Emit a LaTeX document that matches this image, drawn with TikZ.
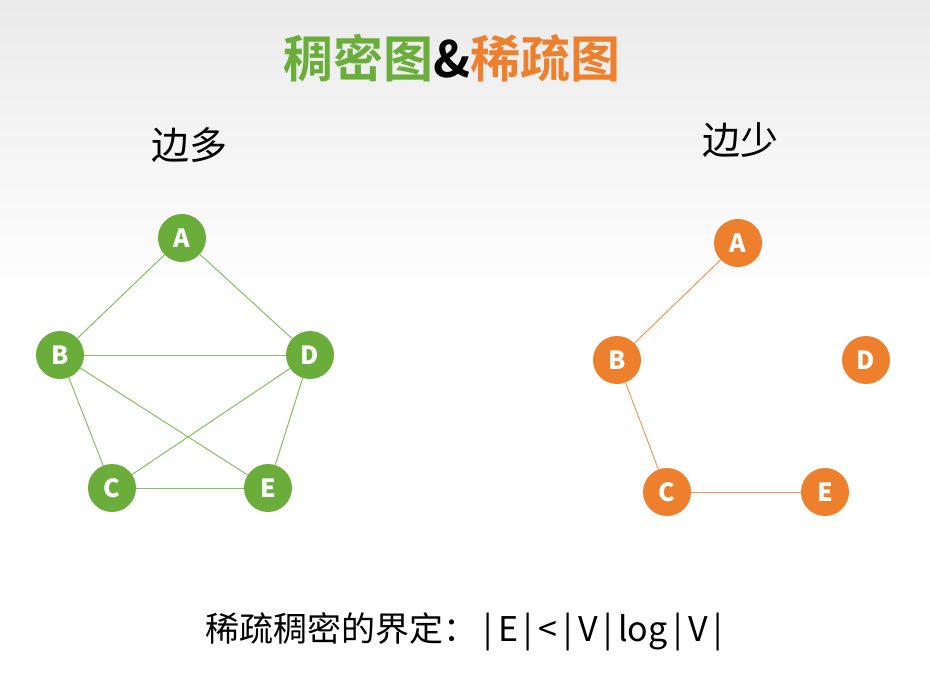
\documentclass[tikz,border=0pt]{standalone}
\usepackage{fontspec}
\setmainfont{Noto Sans CJK SC}
\newfontfamily\cjkb{Noto Sans CJK SC Bold}
\definecolor{gr}{HTML}{6AAD3A}
\definecolor{og}{HTML}{EE7F2D}
\begin{document}
\begin{tikzpicture}[x=1pt,y=-1pt,
  gn/.style={circle,fill=gr,minimum size=48pt,inner sep=0pt,text=white,font=\fontsize{25}{25}\selectfont\bfseries},
  on/.style={circle,fill=og,minimum size=48pt,inner sep=0pt,text=white,font=\fontsize{25}{25}\selectfont\bfseries},
  ge/.style={draw=gr!80,line width=1pt},
  oe/.style={draw=og!80,line width=1pt}]
\shade[top color=black!8,bottom color=white] (0,0) rectangle (930,300);
\fill[white] (0,300) rectangle (930,694);
\useasboundingbox (0,0) rectangle (930,694);
\node (t) at (452,58) {\cjkb\fontsize{50}{50}\selectfont\textcolor{gr}{稠密图}\textcolor{black}{\&}\textcolor{og}{稀疏图}};
\node (l1) at (189,145) {\fontsize{38}{38}\selectfont 边多};
\node (l2) at (740,140) {\fontsize{38}{38}\selectfont 边少};
\node[gn] (A) at (182,238) {A};
\node[gn] (B) at (60,355) {B};
\node[gn] (D) at (310,355) {D};
\node[gn] (C) at (112,488) {C};
\node[gn] (E) at (268,488) {E};
\foreach \a/\b in {A/B,A/D,B/D,B/C,B/E,C/D,C/E,D/E} \draw[ge] (\a) -- (\b);
\node[on] (a) at (738,243) {A};
\node[on] (b) at (617,360) {B};
\node[on] (d) at (866,360) {D};
\node[on] (c) at (667,492) {C};
\node[on] (e) at (825,492) {E};
\foreach \a/\b in {a/b,b/c,c/e} \draw[oe] (\a) -- (\b);
\node (f) at (464,632) {\fontsize{34}{34}\selectfont 稀疏稠密的界定：\,|\,E\,|\,<\,|\,V\,|\,log\,|\,V\,|};
\end{tikzpicture}
\end{document}
